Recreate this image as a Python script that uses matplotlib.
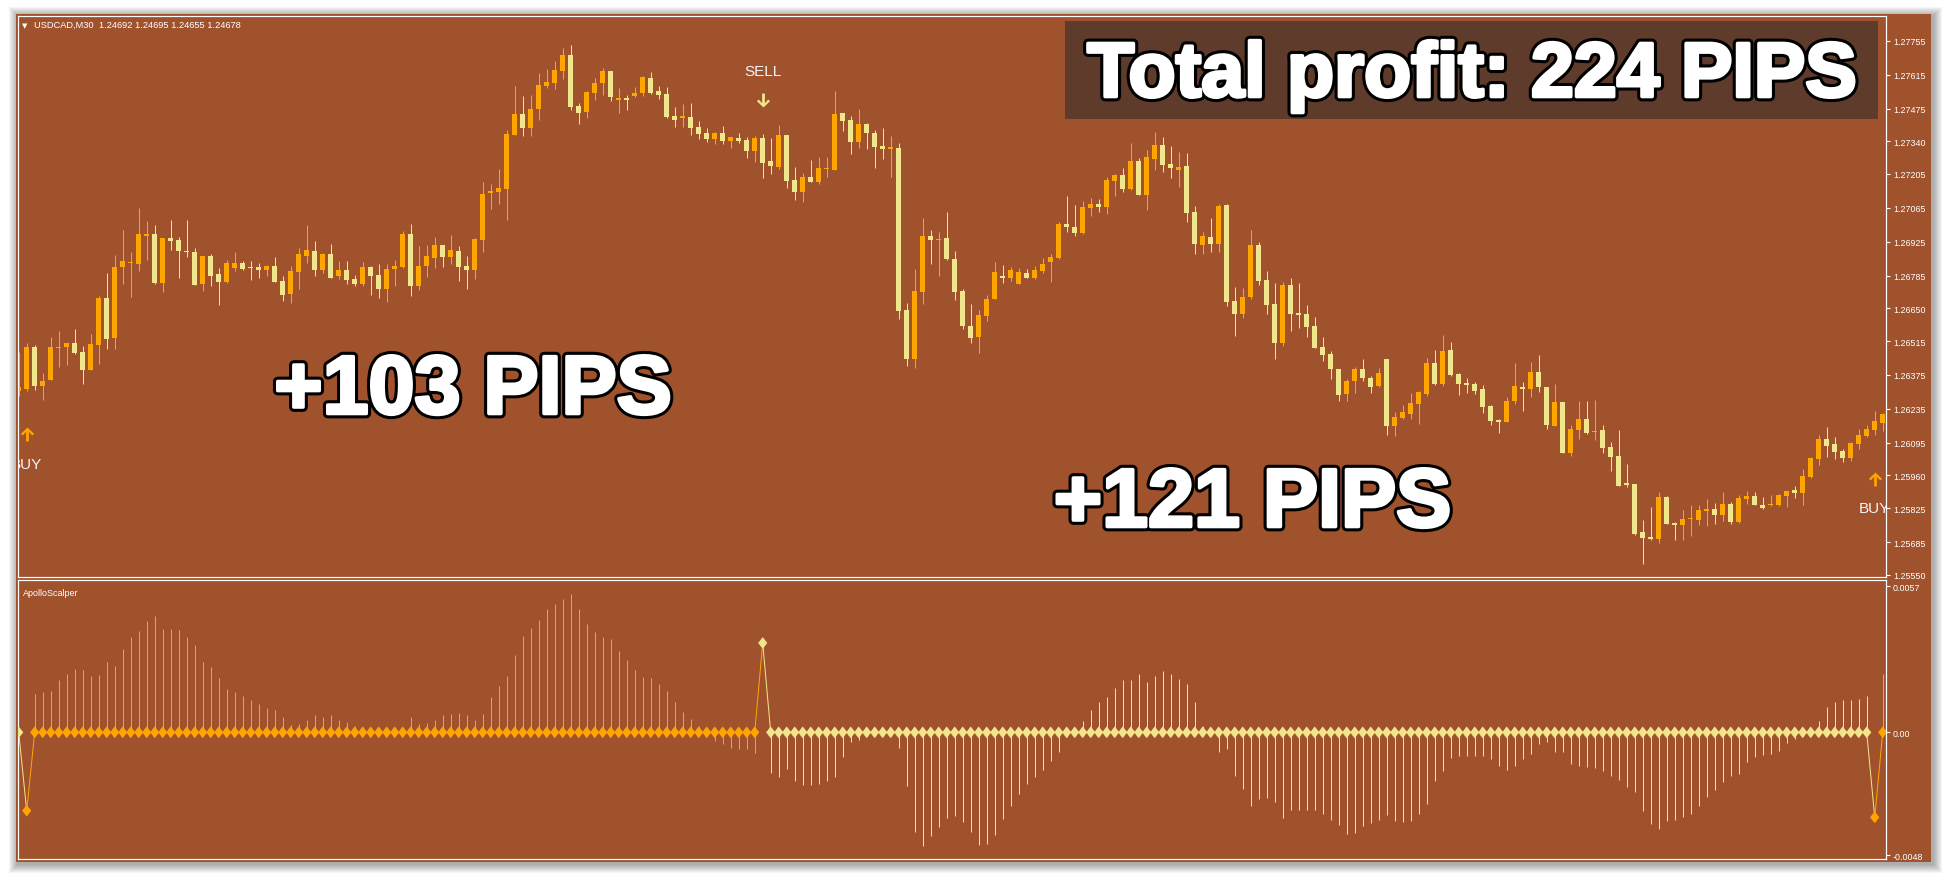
import numpy as np
import matplotlib
matplotlib.use('Agg')
import matplotlib.pyplot as plt
import matplotlib.patches as mpatches
import matplotlib.patheffects as pe
from matplotlib.path import Path
from matplotlib.collections import LineCollection

plt.rcParams['font.family'] = ['Liberation Sans', 'DejaVu Sans']

W, H = 1946, 879

# USDCAD M30 candles, in points (1e-5) above 1.0  -> 26308 = 1.26308
opens = [26308, 26317, 26490, 26331, 26356, 26486, 26492, 26507, 26470, 26395,
         26500, 26693, 26528, 26822, 26839, 26833, 26950, 26957, 26755, 26940,
         26932, 26888, 26883, 26752, 26866, 26792, 26760, 26817, 26837, 26821,
         26821, 26810, 26825, 26763, 26711, 26801, 26866, 26887, 26810, 26874,
         26785, 26808, 26771, 26752, 26821, 26788, 26730, 26812, 26821, 26957,
         26742, 26825, 26858, 26912, 26862, 26887, 26825, 26808, 26932, 27125,
         27132, 27143, 27367, 27452, 27396, 27473, 27568, 27580, 27630, 27696,
         27485, 27461, 27539, 27580, 27630, 27510, 27518, 27527, 27539, 27601,
         27547, 27535, 27444, 27436, 27440, 27399, 27374, 27349, 27374, 27341,
         27353, 27345, 27300, 27353, 27258, 27234, 27366, 27180, 27130, 27192,
         27172, 27225, 27221, 27456, 27428, 27337, 27411, 27374, 27320, 27308,
         27312, 26643, 26441, 26718, 26949, 26932, 26941, 26854, 26722, 26577,
         26532, 26619, 26689, 26784, 26775, 26751, 26796, 26775, 26804, 26841,
         26858, 26998, 26986, 26961, 27064, 27081, 27068, 27176, 27200, 27143,
         27258, 27118, 27267, 27324, 27246, 27221, 27238, 27048, 26912, 26945,
         26916, 27077, 26680, 26627, 26697, 26912, 26767, 26668, 26507, 26746,
         26631, 26627, 26577, 26491, 26462, 26400, 26297, 26350, 26400, 26363,
         26330, 26441, 26164, 26197, 26214, 26255, 26297, 26424, 26338, 26478,
         26379, 26342, 26338, 26317, 26247, 26189, 26181, 26267, 26325, 26317,
         26387, 26325, 26164, 26263, 26053, 26148, 26193, 26139, 26148, 26077,
         26040, 25929, 25925, 25727, 25706, 25698, 25871, 25764, 25756, 25780,
         25776, 25813, 25822, 25797, 25842, 25768, 25863, 25875, 25838, 25838,
         25838, 25875, 25900, 25888, 25954, 26028, 26111, 26090, 26061, 26032,
         26090, 26123, 26148, 26177]
highs = [26468, 26507, 26500, 26382, 26530, 26555, 26507, 26565, 26496, 26544,
         26700, 26796, 26870, 26973, 26883, 27064, 27011, 26994, 26940, 27015,
         26943, 27015, 26898, 26866, 26874, 26815, 26851, 26883, 26847, 26847,
         26837, 26829, 26861, 26782, 26823, 26898, 26994, 26928, 26878, 26916,
         26845, 26845, 26788, 26841, 26823, 26833, 26833, 26850, 26968, 26998,
         26907, 26912, 26945, 26912, 26953, 26907, 26866, 26940, 27173, 27163,
         27225, 27386, 27568, 27527, 27531, 27622, 27638, 27671, 27725, 27737,
         27498, 27547, 27601, 27642, 27630, 27560, 27531, 27564, 27609, 27626,
         27568, 27564, 27481, 27494, 27498, 27424, 27395, 27378, 27403, 27357,
         27374, 27357, 27362, 27370, 27353, 27407, 27366, 27234, 27209, 27262,
         27275, 27275, 27547, 27456, 27444, 27473, 27415, 27386, 27395, 27362,
         27333, 26672, 26813, 27023, 26974, 26965, 27048, 26887, 26730, 26668,
         26643, 26705, 26841, 26829, 26821, 26817, 26812, 26825, 26858, 26874,
         27007, 27114, 27077, 27093, 27106, 27101, 27192, 27205, 27229, 27333,
         27271, 27304, 27378, 27357, 27320, 27295, 27291, 27073, 26965, 27023,
         27081, 27081, 26738, 26734, 26974, 26924, 26804, 26755, 26759, 26775,
         26755, 26664, 26614, 26532, 26474, 26400, 26358, 26408, 26441, 26371,
         26404, 26441, 26222, 26251, 26301, 26309, 26445, 26478, 26540, 26511,
         26383, 26362, 26346, 26333, 26251, 26193, 26284, 26424, 26346, 26428,
         26457, 26325, 26338, 26263, 26168, 26267, 26267, 26272, 26168, 26098,
         26148, 26007, 25925, 25776, 25830, 25892, 25875, 25768, 25817, 25838,
         25838, 25863, 25846, 25892, 25850, 25879, 25896, 25892, 25871, 25879,
         25884, 25896, 25917, 25987, 26036, 26127, 26160, 26119, 26069, 26098,
         26152, 26168, 26226, 26218]
lows = [26290, 26310, 26313, 26273, 26356, 26409, 26417, 26463, 26338, 26395,
        26420, 26482, 26482, 26750, 26698, 26806, 26851, 26750, 26719, 26891,
        26775, 26862, 26748, 26723, 26744, 26665, 26753, 26806, 26810, 26768,
        26775, 26782, 26760, 26682, 26673, 26730, 26837, 26785, 26796, 26777,
        26771, 26750, 26744, 26741, 26706, 26691, 26678, 26744, 26817, 26702,
        26726, 26779, 26815, 26822, 26833, 26764, 26730, 26771, 26881, 27060,
        27081, 27015, 27367, 27363, 27363, 27429, 27560, 27556, 27597, 27469,
        27411, 27436, 27510, 27531, 27506, 27456, 27469, 27523, 27527, 27535,
        27514, 27436, 27399, 27399, 27366, 27349, 27337, 27329, 27329, 27312,
        27333, 27271, 27254, 27188, 27205, 27225, 27147, 27097, 27089, 27172,
        27163, 27192, 27221, 27382, 27287, 27312, 27308, 27229, 27267, 27192,
        26606, 26412, 26404, 26668, 26833, 26784, 26850, 26685, 26565, 26507,
        26466, 26598, 26689, 26755, 26763, 26751, 26775, 26771, 26796, 26759,
        26854, 26965, 26949, 26957, 27031, 27048, 27040, 27114, 27130, 27139,
        27118, 27056, 27221, 27213, 27188, 27151, 27006, 26874, 26874, 26883,
        26883, 26660, 26536, 26610, 26689, 26746, 26627, 26441, 26495, 26557,
        26569, 26532, 26486, 26433, 26358, 26268, 26268, 26301, 26350, 26301,
        26325, 26127, 26123, 26193, 26193, 26173, 26288, 26333, 26329, 26371,
        26292, 26300, 26296, 26218, 26168, 26135, 26181, 26255, 26226, 26284,
        26305, 26152, 26164, 26053, 26040, 26111, 26131, 26106, 26053, 25978,
        25917, 25912, 25714, 25595, 25694, 25681, 25760, 25694, 25694, 25710,
        25756, 25751, 25760, 25772, 25760, 25764, 25842, 25838, 25822, 25834,
        25834, 25830, 25867, 25838, 25950, 26003, 26036, 26028, 26016, 26020,
        26069, 26119, 26127, 26144]
closes = [26325, 26490, 26331, 26349, 26490, 26490, 26507, 26466, 26395, 26503,
          26693, 26523, 26821, 26845, 26843, 26957, 26957, 26755, 26940, 26929,
          26888, 26881, 26748, 26866, 26785, 26760, 26837, 26837, 26812, 26817,
          26810, 26825, 26760, 26705, 26804, 26874, 26891, 26810, 26874, 26777,
          26808, 26768, 26752, 26821, 26785, 26730, 26812, 26825, 26957, 26742,
          26825, 26866, 26912, 26862, 26891, 26821, 26808, 26936, 27122, 27135,
          27147, 27370, 27452, 27396, 27473, 27572, 27584, 27634, 27696, 27481,
          27456, 27543, 27580, 27630, 27523, 27518, 27510, 27539, 27605, 27539,
          27531, 27440, 27428, 27444, 27395, 27370, 27349, 27374, 27341, 27357,
          27341, 27300, 27353, 27250, 27238, 27366, 27176, 27130, 27192, 27172,
          27229, 27229, 27452, 27424, 27337, 27411, 27374, 27316, 27308, 27316,
          26639, 26441, 26722, 26949, 26932, 26936, 26854, 26718, 26577, 26528,
          26623, 26689, 26800, 26775, 26808, 26800, 26775, 26808, 26833, 26862,
          26998, 26986, 26961, 27068, 27081, 27068, 27180, 27200, 27143, 27258,
          27118, 27275, 27324, 27242, 27229, 27234, 27044, 26916, 26949, 26916,
          27073, 26676, 26627, 26697, 26912, 26763, 26664, 26507, 26746, 26627,
          26623, 26573, 26486, 26458, 26400, 26292, 26350, 26400, 26363, 26325,
          26383, 26164, 26202, 26222, 26259, 26305, 26425, 26338, 26474, 26375,
          26338, 26333, 26309, 26243, 26185, 26181, 26267, 26329, 26317, 26387,
          26325, 26168, 26263, 26053, 26152, 26193, 26135, 26144, 26073, 26036,
          25917, 25921, 25718, 25702, 25698, 25871, 25760, 25756, 25780, 25784,
          25817, 25822, 25797, 25842, 25768, 25867, 25875, 25838, 25826, 25842,
          25879, 25896, 25888, 25958, 26032, 26111, 26082, 26057, 26032, 26094,
          26127, 26152, 26185, 26214]

# ApolloScalper histogram, units of 1e-4
apollo_hist = [0, 0, 15.0, 15.6, 16.1, 20.4, 22.8, 24.7, 24.3, 22.0,
               22.4, 27.5, 25.9, 32.5, 37.1, 39.7, 43.5, 45.4, 40.3, 40.3,
               40.0, 37.2, 34.1, 27.5, 25.5, 21.1, 16.9, 15.6, 14.3, 12.6,
               10.9, 9.5, 8.7, 6.0, 2.9, 3.3, 4.8, 6.8, 6.0, 6.8,
               4.8, 4.2, 2.6, 2.0, 1.5, 1.0, 0.5, 0.5, 1.0, 6.0,
               3.3, 3.6, 4.9, 6.8, 7.2, 7.5, 6.8, 4.8, 7.2, 13.8,
               18.2, 22.1, 30.2, 37.6, 40.6, 43.9, 48.2, 50.1, 52.1, 54.0,
               48.2, 42.3, 39.2, 37.1, 36.4, 31.8, 28.2, 24.3, 21.6, 21.2,
               18.7, 16.1, 11.7, 7.8, 5.2, 2.6, -1.0, -3.3, -4.6, -6.1,
               -6.5, -6.5, -7.9, 0, -15.7, -17.4, -14.3, -18.9, -20.4, -20.4,
               -20.2, -18.9, -17.4, -9.5, -3.9, -2.9, -1.5, -1.0, -0.5, -1.0,
               -6.0, -20.8, -39.0, -44.2, -40.3, -37.1, -33.6, -32.5, -35.1, -39.0,
               -43.9, -43.5, -40.0, -33.8, -28.9, -24.1, -20.2, -17.6, -14.6, -11.3,
               -7.8, -2.0, 0.5, 4.3, 8.8, 11.7, 13.8, 17.2, 20.4, 20.4,
               22.8, 19.5, 21.9, 24.0, 22.8, 20.8, 18.7, 12.0, 2.6, 0.0,
               -7.6, -6.5, -16.9, -22.1, -28.6, -26.0, -25.5, -27.3, -33.6, -30.2,
               -30.2, -30.2, -30.2, -31.9, -34.1, -36.1, -39.8, -39.5, -36.4, -35.5,
               -34.1, -32.3, -34.5, -34.9, -34.5, -32.0, -28.1, -19.0, -15.0, -10.2,
               -9.1, -9.4, -9.1, -9.1, -10.4, -13.3, -14.8, -13.0, -10.4, -8.5,
               -4.6, -3.9, -7.5, -7.5, -12.4, -13.3, -13.5, -14.1, -15.0, -16.9,
               -18.5, -21.5, -23.4, -30.6, -35.8, -37.7, -34.5, -34.1, -33.2, -31.9,
               -28.9, -25.4, -22.4, -19.5, -16.9, -16.3, -11.7, -9.8, -8.8, -8.5,
               -7.2, -4.2, -2.6, -1.3, 0.5, 4.6, 9.8, 12.0, 12.6, 12.6,
               13.0, 14.3, 0, 22.8]

signal_bars = [1, 93, 232]
signal_vals = [-0.00306, 0.00349, -0.00332]
signal_kind = ['BUY', 'SELL', 'BUY']

price_ticks = [1.27755, 1.27615, 1.27475, 1.27340, 1.27205, 1.27065, 1.26925,
               1.26785, 1.26650, 1.26515, 1.26375, 1.26235, 1.26095, 1.25960,
               1.25825, 1.25685, 1.25550]
apollo_ticks = [0.0057, 0.0, -0.0048]
apollo_labels = ['0.0057', '0.00', '-0.0048']

header = 'USDCAD,M30  1.24692 1.24695 1.24655 1.24678'
profits = ['+103 PIPS', '+121 PIPS']
total_text = 'Total profit: 224 PIPS'

BG = '#A0522D'
BULL = '#FFA500'
BEAR = '#F0E68C'
BOX = '#5E3B2A'
PX = 0.72  # one pixel in points at 100 dpi


def fx(x):
    return x / W


def fy(y):
    return 1 - y / H


def arrow_marker(up=True):
    pts = [(0, 1.0), (0.95, 0.1), (0.68, -0.14), (0.2, 0.38), (0.2, -1.0),
           (-0.2, -1.0), (-0.2, 0.38), (-0.68, -0.14), (-0.95, 0.1), (0, 1.0)]
    if not up:
        pts = [(px, -py) for px, py in pts]
    codes = [Path.MOVETO] + [Path.LINETO] * (len(pts) - 2) + [Path.CLOSEPOLY]
    return Path(pts, codes)


fig = plt.figure(figsize=(W / 100, H / 100), dpi=100)
fig.patch.set_facecolor('white')

# soft shadow + brown terminal frame
for k in range(1, 10):
    fig.patches.append(mpatches.Rectangle(
        (fx(15.6 - k + 2), fy(863 + k + 2)), (1931 - 15.6 + 2 * k) / W, (863 - 15 + 2 * k) / H,
        transform=fig.transFigure, facecolor='black', edgecolor='none', alpha=0.04, zorder=-3))
fig.patches.append(mpatches.Rectangle((fx(15.6), fy(863)), (1931 - 15.6) / W, (863 - 15) / H,
                                      transform=fig.transFigure, facecolor=BG, edgecolor='none',
                                      zorder=-2))

ax = fig.add_axes((fx(18), fy(578), (1886 - 18) / W, (578 - 17) / H))
axi = fig.add_axes((fx(18), fy(860), (1886 - 18) / W, (860 - 581) / H))

o = 1 + np.array(opens) / 1e5
h = 1 + np.array(highs) / 1e5
l = 1 + np.array(lows) / 1e5
c = 1 + np.array(closes) / 1e5
n = len(o)
x = np.arange(n)
cols = np.where(c >= o, BULL, BEAR)

# candles
ax.vlines(x, l, h, colors=cols, linewidth=PX)
body_lo = np.minimum(o, c)
body_h = np.maximum(np.abs(c - o), 0.00004)
ax.bar(x, body_h, bottom=body_lo, width=0.62, color=cols, linewidth=0)

ax.set_facecolor(BG)
ax.set_xlim(-0.0875, 233.41)
ax.set_ylim(1.255406, 1.27857)
ax.yaxis.tick_right()
ax.set_yticks(price_ticks)
ax.set_yticklabels([f'{t:.5f}' for t in price_ticks])
ax.set_xticks([])
ax.tick_params(axis='y', colors='white', length=3, width=0.8, labelsize=6.4, pad=2)
for s in ax.spines.values():
    s.set_color('white')
    s.set_linewidth(PX * 1.2)

# buy / sell marks
for b, kind in zip(signal_bars, signal_kind):
    if kind == 'BUY':
        ax.plot(b, l[b] - 0.0018, marker=arrow_marker(True), markersize=10, color=BULL,
                markeredgewidth=0, linestyle='none', clip_on=True)
        ax.text(b, l[b] - 0.00303, 'BUY', color='#F4F4F4', fontsize=11,
                ha='center', va='center', clip_on=True)
    else:
        ax.plot(b, h[b] + 0.00141, marker=arrow_marker(False), markersize=10, color=BEAR,
                markeredgewidth=0, linestyle='none', clip_on=True)
        ax.text(b, h[b] + 0.00261, 'SELL', color='#F4F4F4', fontsize=11,
                ha='center', va='center', clip_on=True)

# ApolloScalper indicator
regime = []
cur = BEAR if signal_kind[0] == 'BUY' else BULL
sig_map = dict(zip(signal_bars, signal_kind))
for i in range(n):
    if i in sig_map:
        cur = BULL if sig_map[i] == 'BUY' else BEAR
    regime.append(cur)

hist = np.array(apollo_hist) * 1e-4
axi.vlines(x, 0, hist, colors=regime, linewidth=PX)

sig = np.zeros(n)
sig[signal_bars] = signal_vals
segs = [[(i - 1, sig[i - 1]), (i, sig[i])] for i in range(1, n)]
axi.add_collection(LineCollection(segs, colors=regime[:-1], linewidths=PX))
diamond = Path([(0, 1), (0.78, 0), (0, -1), (-0.78, 0), (0, 1)],
               [Path.MOVETO, Path.LINETO, Path.LINETO, Path.LINETO, Path.CLOSEPOLY])
axi.scatter(x, sig, marker=diamond, s=72, c=regime, linewidths=0, zorder=3)

axi.set_facecolor(BG)
axi.set_xlim(-0.0875, 233.41)
axi.set_ylim(-0.004947, 0.00595)
axi.yaxis.tick_right()
axi.set_yticks(apollo_ticks)
axi.set_yticklabels(apollo_labels)
axi.set_xticks([])
axi.tick_params(axis='y', colors='white', length=3, width=0.8, labelsize=6.4, pad=2)
for s in axi.spines.values():
    s.set_color('white')
    s.set_linewidth(PX * 1.2)
axi.text(0.0025, 0.97, 'ApolloScalper', transform=axi.transAxes, color='white',
         fontsize=6.5, ha='left', va='top')

# header
fig.text(fx(24.5), fy(25.7), '\u25bc', color='white', fontsize=5, family='DejaVu Sans',
         ha='center', va='center')
fig.text(fx(33.5), fy(25.7), header, color='white', fontsize=6.7, ha='left', va='center')

# profit annotations (heavy white letters with black outline)
stroke = [pe.Stroke(linewidth=7, foreground='black'),
          pe.Stroke(linewidth=2.6, foreground='white'), pe.Normal()]
fig.text(fx(473), fy(414.5), profits[0], color='white', fontsize=59.5, fontweight='bold',
         ha='center', va='baseline', path_effects=stroke, zorder=5)
fig.text(fx(1252.5), fy(527.5), profits[1], color='white', fontsize=59.5, fontweight='bold',
         ha='center', va='baseline', path_effects=stroke, zorder=5)

fig.patches.append(mpatches.Rectangle((fx(1065), fy(120)), (1878 - 1065) / W, (120 - 22) / H,
                                      transform=fig.transFigure, facecolor=BOX,
                                      edgecolor='none', zorder=4))
fig.text(fx(1472), fy(97.5), total_text, color='white', fontsize=55.5, fontweight='bold',
         ha='center', va='baseline', path_effects=stroke, zorder=5)

fig.savefig('out.png', dpi=100, facecolor='white')
